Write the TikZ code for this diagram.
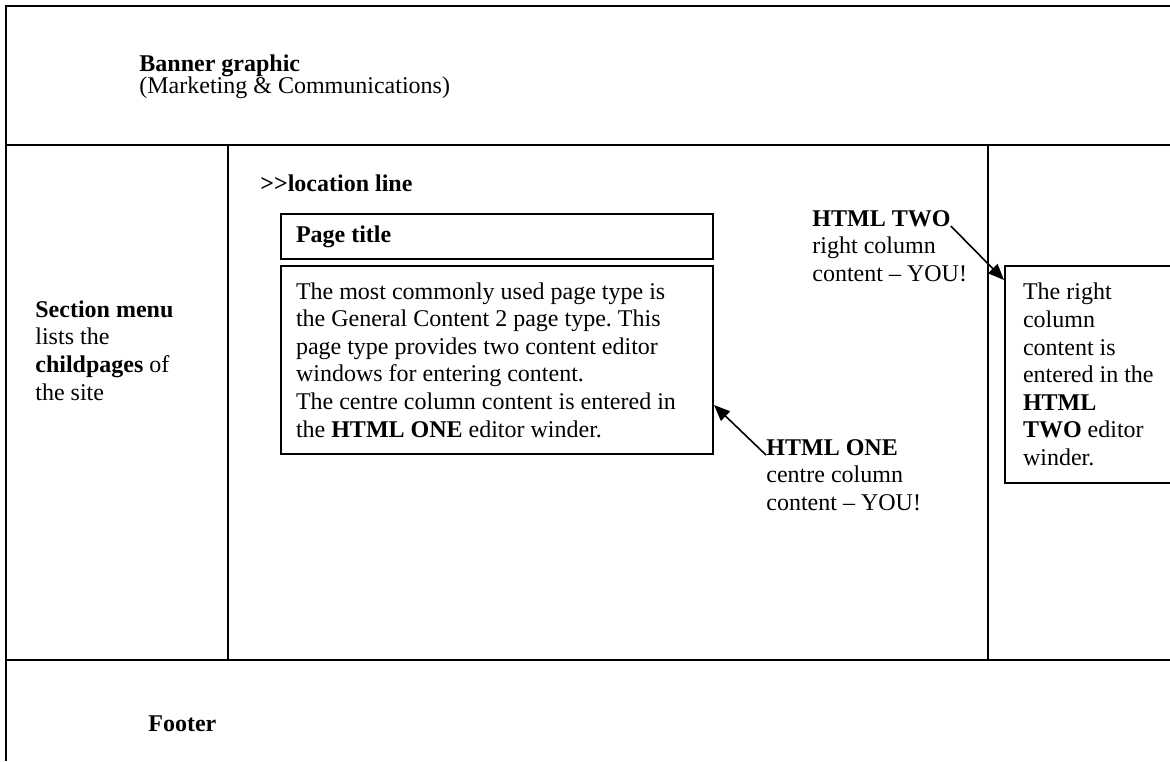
\documentclass[tikz,border=0pt]{standalone}
\usepackage{fontspec}
\setmainfont{Liberation Serif}
\usetikzlibrary{arrows.meta, positioning}

\begin{document}
\frenchspacing
\begin{tikzpicture}[
    x=0.5pt, y=-0.5pt,
    font=\fontsize{12}{13.8}\selectfont,
    frame/.style={
        line width=1pt
    },
    note/.style={
        inner sep=0pt,
        anchor=base west,
        align=flush left
    },
    panel/.style={
        draw,
        line width=1pt,
        anchor=north west,
        align=flush left,
        inner xsep=7.5pt,
        text width=201pt
    },
    arrow/.style={
        -{Triangle[length=8pt, width=6.5pt]},
        line width=0.8pt
    }
]
\useasboundingbox (0,0) rectangle (1170,761);

% page frame
\draw[frame] (1170,6) -- (6,6) -- (6,761);
\draw[frame] (6,145) -- (1170,145);
\draw[frame] (6,660) -- (1170,660);
\draw[frame] (228,145) -- (228,660);
\draw[frame] (988,145) -- (988,660);

% banner, menu and footer (base = last line)
\node[note] (banner) at (139,93) {\textbf{Banner graphic}\\[-2.8pt](Marketing \& Communications)};
\node[note] (menu) at (35,400) {\textbf{Section menu}\\lists the\\\textbf{childpages} of\\the site};
\node[note] (footer) at (148,731) {\textbf{Footer}};

% centre column
\node[note] (loc) at (260,191) {\textbf{>{}>location line}};
\node[panel, minimum height=22.5pt] (title) at (280,213) {\textbf{Page title}};
\node[panel, below=2.5pt of title, minimum height=94pt, inner ysep=6.5pt] (body) {The most commonly used page type is\\the General Content 2 page type. This\\page type provides two content editor\\windows for entering content.\\The centre column content is entered in\\the \textbf{HTML ONE} editor winder.};

% right column
\node[panel, text width=70pt, inner xsep=9pt, minimum height=108.5pt] (rbox) at (1004,265) {The right\\column\\content is\\entered in the\\\textbf{HTML}\\\textbf{TWO} editor\\winder.};

% editor labels
\node[note] (two) at (812,226) {\textbf{HTML TWO}};
\node[note] (twoinfo) at (812,281) {right column\\content \textendash{} YOU!};
\node[note] (one) at (766,455) {\textbf{HTML ONE}};
\node[note] (oneinfo) at (766,510) {centre column\\content \textendash{} YOU!};

\coordinate (twotip) at ([yshift=-7.5pt]rbox.north west);
\coordinate (onetip) at ([yshift=25pt]body.south east);

\draw[arrow] (two.base east) -- (twotip);
\draw[arrow] (one.base west) -- (onetip);

\end{tikzpicture}
\end{document}
